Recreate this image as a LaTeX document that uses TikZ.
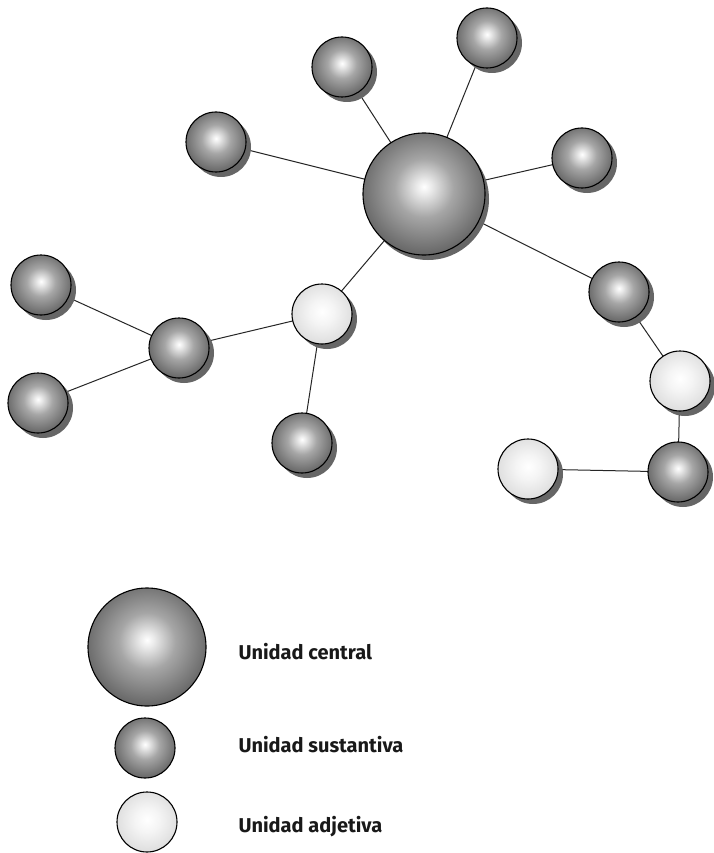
\documentclass[tikz,border=0pt]{standalone}
\usepackage{fontspec}
\setmainfont{Fira Sans}
\usetikzlibrary{shadows}
\pgfdeclarelayer{back}
\pgfsetlayers{back,main}
\pgfdeclareradialshading{sphdark}{\pgfpoint{0bp}{3bp}}{color(0bp)=(white); color(3bp)=(black!8); color(12bp)=(black!35); color(28bp)=(black!62); color(42bp)=(black!76); color(50bp)=(black!84); color(70bp)=(black!84)}
\pgfdeclareradialshading{sphlight}{\pgfpoint{0bp}{2bp}}{color(0bp)=(white); color(10bp)=(black!4); color(28bp)=(black!14); color(44bp)=(black!24); color(50bp)=(black!32); color(70bp)=(black!32)}
\tikzset{
  ball/.style={circle, draw=black, line width=1.1pt, inner sep=0pt},
  sust/.style={ball, minimum size=60pt, shading=sphdark,
     drop shadow={shadow xshift=5pt, shadow yshift=-5pt, fill=black!60, opacity=1}},
  adj/.style={ball, minimum size=60pt, shading=sphlight,
     drop shadow={shadow xshift=5pt, shadow yshift=-5pt, fill=black!60, opacity=1}},
  cent/.style={ball, minimum size=122pt, shading=sphdark,
     drop shadow={shadow xshift=4pt, shadow yshift=-5pt, fill=black!60, opacity=1}},
  lsust/.style={ball, minimum size=60pt, shading=sphdark},
  ladj/.style={ball, minimum size=60pt, shading=sphlight},
  lcent/.style={ball, minimum size=118pt, shading=sphdark},
  link/.style={draw=black!85, line width=1pt},
  lab/.style={anchor=west, font=\fontsize{20}{22}\selectfont\bfseries, text=black!90}
}
\begin{document}
\begin{tikzpicture}[x=1pt,y=-1pt]
\useasboundingbox (0,0) rectangle (713,853);
\begin{pgfonlayer}{back}
\fill[white] (0,0) rectangle (713,853);
\end{pgfonlayer}
% network
\node[cent] (c) at (424,194) {};
\node[sust] (t1) at (342,67) {};
\node[sust] (t2) at (487,38) {};
\node[sust] (t3) at (216,142) {};
\node[sust] (t4) at (582,158) {};
\node[sust] (r1) at (619,292) {};
\node[adj]  (r2) at (680,381) {};
\node[sust] (r3) at (678,472) {};
\node[adj]  (r4) at (528,469) {};
\node[adj]  (a1) at (322,314) {};
\node[sust] (d1) at (302,443) {};
\node[sust] (m1) at (179,348) {};
\node[sust] (l1) at (41,285) {};
\node[sust] (l2) at (38,403) {};
\begin{pgfonlayer}{back}
\draw[link] (c.center) -- (t1.center);
\draw[link] (c.center) -- (t2.center);
\draw[link] (c.center) -- (t3.center);
\draw[link] (c.center) -- (t4.center);
\draw[link] (c.center) -- (r1.center);
\draw[link] (c.center) -- (a1.center);
\draw[link] (r1.center) -- (r2.center);
\draw[link] (r2.center) -- (r3.center);
\draw[link] (r3.center) -- (r4.center);
\draw[link] (a1.center) -- (d1.center);
\draw[link] (a1.center) -- (m1.center);
\draw[link] (m1.center) -- (l1.center);
\draw[link] (m1.center) -- (l2.center);
\end{pgfonlayer}
% legend
\node[lcent] (k1) at (147,647) {};
\node[lsust] (k2) at (145,748) {};
\node[ladj]  (k3) at (147,822) {};
\node[lab] (t-k1) at (235,652) {Unidad central};
\node[lab] (t-k2) at (235,745) {Unidad sustantiva};
\node[lab] (t-k3) at (235,827) {Unidad adjetiva};
\end{tikzpicture}
\end{document}
